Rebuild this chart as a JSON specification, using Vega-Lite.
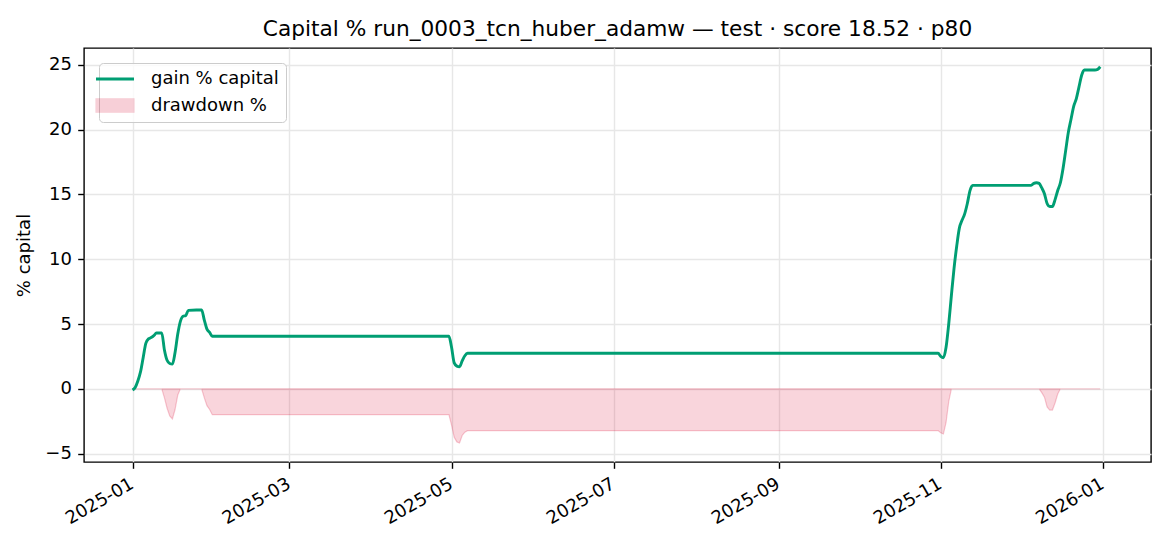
{
  "$schema": "https://vega.github.io/schema/vega-lite/v6.json",
  "description": "Capital % curve with drawdown shading.",
  "autosize": "none",
  "width": 1067,
  "height": 414,
  "padding": {"left": 84, "top": 48, "right": 19, "bottom": 84},
  "title": {
    "text": "Capital % run_0003_tcn_huber_adamw — test · score 18.52 · p80",
    "font": "DejaVu Sans",
    "fontSize": 21.7,
    "fontWeight": "normal",
    "color": "#000",
    "offset": 7
  },
  "data": {
    "values": [
      {"date": "2025-01-01", "gain": -0.1, "dd": 0},
      {"date": "2025-01-02", "gain": 0.1, "dd": 0},
      {"date": "2025-01-03", "gain": 0.6, "dd": 0},
      {"date": "2025-01-04", "gain": 1.3, "dd": 0},
      {"date": "2025-01-05", "gain": 2.4, "dd": 0},
      {"date": "2025-01-06", "gain": 3.5, "dd": 0},
      {"date": "2025-01-07", "gain": 3.85, "dd": 0},
      {"date": "2025-01-08", "gain": 3.95, "dd": 0},
      {"date": "2025-01-09", "gain": 4.1, "dd": 0},
      {"date": "2025-01-10", "gain": 4.3, "dd": 0},
      {"date": "2025-01-11", "gain": 4.3, "dd": 0},
      {"date": "2025-01-12", "gain": 4.3, "dd": 0},
      {"date": "2025-01-13", "gain": 3.0, "dd": -0.7},
      {"date": "2025-01-14", "gain": 2.2, "dd": -1.5},
      {"date": "2025-01-15", "gain": 1.95, "dd": -2.1},
      {"date": "2025-01-16", "gain": 1.9, "dd": -2.33},
      {"date": "2025-01-17", "gain": 2.8, "dd": -1.6},
      {"date": "2025-01-18", "gain": 4.2, "dd": -0.5},
      {"date": "2025-01-19", "gain": 5.2, "dd": 0},
      {"date": "2025-01-20", "gain": 5.6, "dd": 0},
      {"date": "2025-01-21", "gain": 5.65, "dd": 0},
      {"date": "2025-01-22", "gain": 6.05, "dd": 0},
      {"date": "2025-01-25", "gain": 6.08, "dd": 0},
      {"date": "2025-01-27", "gain": 6.08, "dd": 0},
      {"date": "2025-01-28", "gain": 5.3, "dd": -0.7},
      {"date": "2025-01-29", "gain": 4.6, "dd": -1.3},
      {"date": "2025-01-30", "gain": 4.35, "dd": -1.6},
      {"date": "2025-01-31", "gain": 4.05, "dd": -2.0},
      {"date": "2025-02-01", "gain": 4.05, "dd": -2.0},
      {"date": "2025-04-30", "gain": 4.05, "dd": -2.0},
      {"date": "2025-05-01", "gain": 3.2, "dd": -2.8},
      {"date": "2025-05-02", "gain": 2.0, "dd": -3.75},
      {"date": "2025-05-03", "gain": 1.75, "dd": -4.1},
      {"date": "2025-05-04", "gain": 1.7, "dd": -4.18},
      {"date": "2025-05-05", "gain": 2.15, "dd": -3.6},
      {"date": "2025-05-06", "gain": 2.55, "dd": -3.35},
      {"date": "2025-05-07", "gain": 2.74, "dd": -3.23},
      {"date": "2025-10-31", "gain": 2.74, "dd": -3.23},
      {"date": "2025-11-01", "gain": 2.5, "dd": -3.4},
      {"date": "2025-11-02", "gain": 2.4, "dd": -3.49},
      {"date": "2025-11-03", "gain": 3.2, "dd": -2.6},
      {"date": "2025-11-04", "gain": 5.0, "dd": -1.0},
      {"date": "2025-11-05", "gain": 7.2, "dd": 0},
      {"date": "2025-11-06", "gain": 9.3, "dd": 0},
      {"date": "2025-11-07", "gain": 11.0, "dd": 0},
      {"date": "2025-11-08", "gain": 12.4, "dd": 0},
      {"date": "2025-11-09", "gain": 13.0, "dd": 0},
      {"date": "2025-11-10", "gain": 13.5, "dd": 0},
      {"date": "2025-11-11", "gain": 14.3, "dd": 0},
      {"date": "2025-11-12", "gain": 15.3, "dd": 0},
      {"date": "2025-11-13", "gain": 15.7, "dd": 0},
      {"date": "2025-12-05", "gain": 15.7, "dd": 0},
      {"date": "2025-12-06", "gain": 15.85, "dd": 0},
      {"date": "2025-12-07", "gain": 15.9, "dd": 0},
      {"date": "2025-12-08", "gain": 15.85, "dd": 0},
      {"date": "2025-12-09", "gain": 15.5, "dd": -0.3},
      {"date": "2025-12-10", "gain": 15.05, "dd": -0.65},
      {"date": "2025-12-11", "gain": 14.3, "dd": -1.4},
      {"date": "2025-12-12", "gain": 14.07, "dd": -1.64},
      {"date": "2025-12-13", "gain": 14.07, "dd": -1.64},
      {"date": "2025-12-14", "gain": 14.6, "dd": -1.1},
      {"date": "2025-12-15", "gain": 15.3, "dd": -0.4},
      {"date": "2025-12-16", "gain": 15.9, "dd": 0},
      {"date": "2025-12-17", "gain": 17.0, "dd": 0},
      {"date": "2025-12-18", "gain": 18.4, "dd": 0},
      {"date": "2025-12-19", "gain": 19.8, "dd": 0},
      {"date": "2025-12-20", "gain": 20.8, "dd": 0},
      {"date": "2025-12-21", "gain": 21.8, "dd": 0},
      {"date": "2025-12-22", "gain": 22.4, "dd": 0},
      {"date": "2025-12-23", "gain": 23.3, "dd": 0},
      {"date": "2025-12-24", "gain": 24.2, "dd": 0},
      {"date": "2025-12-25", "gain": 24.6, "dd": 0},
      {"date": "2025-12-29", "gain": 24.6, "dd": 0},
      {"date": "2025-12-30", "gain": 24.65, "dd": 0},
      {"date": "2025-12-31", "gain": 24.85, "dd": 0}
    ]
  },
  "encoding": {
    "x": {
      "field": "date",
      "type": "temporal",
      "scale": {
        "type": "utc",
        "domain": [
          {"year": 2024, "month": 12, "date": 13, "hours": 18, "utc": true},
          {"year": 2026, "month": 1, "date": 19, "hours": 2, "utc": true}
        ]
      },
      "axis": {
        "title": null,
        "values": [
          {"year": 2025, "month": 1, "date": 1, "utc": true},
          {"year": 2025, "month": 3, "date": 1, "utc": true},
          {"year": 2025, "month": 5, "date": 1, "utc": true},
          {"year": 2025, "month": 7, "date": 1, "utc": true},
          {"year": 2025, "month": 9, "date": 1, "utc": true},
          {"year": 2025, "month": 11, "date": 1, "utc": true},
          {"year": 2026, "month": 1, "date": 1, "utc": true}
        ],
        "labelExpr": "utcFormat(datum.value, '%Y-%m')",
        "labelAngle": -30,
        "labelAlign": "right",
        "labelBaseline": "top",
        "labelOffset": -5,
        "labelFlush": false,
        "labelOverlap": false
      }
    }
  },
  "layer": [
    {
      "mark": {
        "type": "area",
        "fillOpacity": 0.18,
        "stroke": "#dc143c",
        "strokeOpacity": 0.22,
        "strokeWidth": 1.2
      },
      "encoding": {
        "y": {
          "field": "dd",
          "type": "quantitative",
          "scale": {"domain": [-5.65, 26.3], "nice": false, "zero": false},
          "axis": {
            "title": "% capital",
            "values": [-5, 0, 5, 10, 15, 20, 25],
            "titlePadding": 11
          }
        },
        "y2": {"datum": 0},
        "color": {
          "datum": "drawdown %",
          "scale": {
            "domain": ["gain % capital", "drawdown %"],
            "range": ["#009e73", "#dc143c"]
          },
          "legend": {
            "title": null,
            "orient": "top-left",
            "offset": 15,
            "padding": 7,
            "rowPadding": 7.5,
            "fillColor": "rgba(255,255,255,0.8)",
            "strokeColor": "#cccccc",
            "cornerRadius": 4,
            "labelFont": "DejaVu Sans",
            "labelFontSize": 18,
            "labelColor": "#000",
            "labelOffset": 27,
            "symbolSize": 1444,
            "symbolType": {"expr": "datum.value === 'gain % capital' ? 'M-1,0L1,0' : 'M-1,-0.35L1,-0.35L1,0.35L-1,0.35Z'"},
            "symbolStrokeWidth": {"expr": "datum.value === 'gain % capital' ? 2.9 : 1.2"},
            "symbolOpacity": {"expr": "datum.value === 'gain % capital' ? 1 : 0.2"}
          }
        }
      }
    },
    {
      "mark": {"type": "rule", "color": "#9aa0b0", "strokeWidth": 1.4, "opacity": 0.8},
      "encoding": {"y": {"datum": 0}}
    },
    {
      "mark": {"type": "line", "strokeWidth": 2.9, "interpolate": "monotone"},
      "encoding": {
        "y": {"field": "gain", "type": "quantitative"},
        "color": {"datum": "gain % capital"}
      }
    }
  ],
  "config": {
    "view": {"stroke": "#000", "strokeWidth": 1.4},
    "font": "DejaVu Sans",
    "axis": {
      "labelFont": "DejaVu Sans",
      "labelFontSize": 18,
      "labelColor": "#000",
      "titleFont": "DejaVu Sans",
      "titleFontSize": 18,
      "titleFontWeight": "normal",
      "titleColor": "#000",
      "tickColor": "#000",
      "tickSize": 6.3,
      "tickWidth": 1.4,
      "labelPadding": 6.3,
      "domain": false,
      "grid": true,
      "gridColor": "#e7e7e7",
      "gridWidth": 1.4
    }
  }
}
